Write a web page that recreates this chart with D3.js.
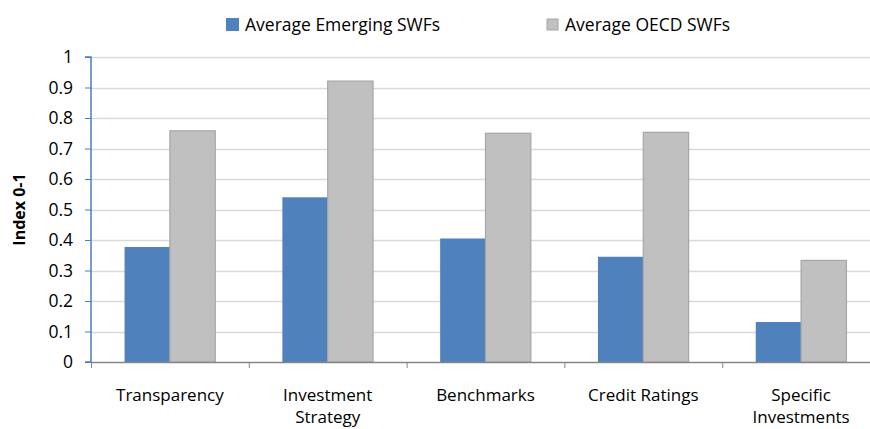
<!DOCTYPE html>
<html>
<head>
<meta charset="utf-8">
<script src="https://cdn.jsdelivr.net/npm/d3@7"></script>
<style>
  body { margin: 0; background: #fff; }
  text { font-family: "Open Sans", "Liberation Sans", sans-serif; fill: #000; }
</style>
</head>
<body>
<div id="chart"></div>
<script>
// Chart data
var categories = ["Transparency", "Investment Strategy", "Benchmarks", "Credit Ratings", "Specific Investments"];
var categoryLines = [["Transparency"], ["Investment", "Strategy"], ["Benchmarks"], ["Credit Ratings"], ["Specific", "Investments"]];
var seriesNames = ["Average Emerging SWFs", "Average OECD SWFs"];
var emerging = [0.377, 0.54, 0.405, 0.345, 0.131];
var oecd = [0.758, 0.921, 0.75, 0.753, 0.333];
var yTicks = [0, 0.1, 0.2, 0.3, 0.4, 0.5, 0.6, 0.7, 0.8, 0.9, 1];

var width = 870, height = 429;
var margin = { left: 91, right: -10, top: 57, bottom: 67 };

var svg = d3.select("#chart").append("svg")
    .attr("width", width)
    .attr("height", height);

// Scales
var x = d3.scaleBand()
    .domain(categories)
    .range([margin.left, width - margin.right])
    .paddingInner(0)
    .paddingOuter(0);

var x1 = d3.scaleBand()
    .domain(seriesNames)
    .range([0, x.bandwidth()])
    .paddingInner(0)
    .paddingOuter(0.74);

var y = d3.scaleLinear()
    .domain([0, 1])
    .range([height - margin.bottom, margin.top]);

var colors = ["#4f81bd", "#c0c0c0"];

// Gridlines
svg.append("g")
    .selectAll("line")
    .data(yTicks.slice(1))
    .enter()
    .append("line")
    .attr("x1", margin.left)
    .attr("x2", width)
    .attr("y1", d => Math.round(y(d)) + 0.5)
    .attr("y2", d => Math.round(y(d)) + 0.5)
    .style("stroke", "#d9d9d9")
    .style("stroke-width", 1.5);

// Bars
var series = [emerging, oecd];
series.forEach(function (vals, s) {
    svg.append("g")
        .selectAll("rect")
        .data(vals)
        .enter()
        .append("rect")
        .attr("x", (d, i) => x(categories[i]) + x1(seriesNames[s]))
        .attr("y", d => y(d))
        .attr("width", x1.bandwidth())
        .attr("height", d => y(0) - y(d))
        .style("fill", colors[s])
        .style("stroke", s === 1 ? "#a6a6a6" : "none")
        .style("stroke-width", 1.2);
});

// X axis
var xAxisG = svg.append("g");
xAxisG.append("line")
    .attr("x1", margin.left)
    .attr("x2", width)
    .attr("y1", y(0) + 0.5)
    .attr("y2", y(0) + 0.5)
    .style("stroke", "#868686")
    .style("stroke-width", 1.5);

xAxisG.selectAll(".xtick")
    .data(categories)
    .enter()
    .append("line")
    .attr("x1", d => x(d) + 0.5)
    .attr("x2", d => x(d) + 0.5)
    .attr("y1", y(0))
    .attr("y2", y(0) + 6)
    .style("stroke", "#868686");

// category labels, wrapped onto two lines where needed
categoryLines.forEach(function (lines, i) {
    var t = xAxisG.append("text")
        .attr("text-anchor", "middle")
        .style("font-size", "17px");
    lines.forEach(function (line, j) {
        t.append("tspan")
            .attr("x", x(categories[i]) + x.bandwidth() / 2)
            .attr("y", 401 + j * 22)
            .text(line);
    });
});

// Y axis
var yAxis = d3.axisLeft(y)
    .tickValues(yTicks)
    .tickSize(6)
    .tickFormat(d3.format("~g"));

var yAxisG = svg.append("g")
    .attr("transform", "translate(" + margin.left + ",0)")
    .call(yAxis);

yAxisG.select(".domain")
    .attr("d", "M-6," + y(1) + "H0V" + y(0) + "H-6")
    .style("stroke", "#4a7ebb")
    .style("stroke-width", 1.5);
yAxisG.selectAll(".tick line").style("stroke", "#4a7ebb");
yAxisG.selectAll(".tick text")
    .attr("x", -18)
    .style("font-size", "17.5px")
    .style("font-family", "'Open Sans', sans-serif")
    .style("fill", "#000");

// Y axis title
svg.append("text")
    .attr("transform", "translate(25," + ((y(0) + y(1)) / 2) + ") rotate(-90)")
    .attr("text-anchor", "middle")
    .style("font-size", "16px")
    .style("font-weight", "bold")
    .text("Index 0-1");

// Legend
var legendX = [226, 547];
seriesNames.forEach(function (name, i) {
    var g = svg.append("g").attr("transform", "translate(" + legendX[i] + ",18)");
    g.append("rect")
        .attr("width", i === 0 ? 13 : 11)
        .attr("height", i === 0 ? 13 : 11)
        .attr("y", i === 0 ? 0 : 1)
        .style("fill", colors[i])
        .style("stroke", i === 1 ? "#a6a6a6" : "none");
    g.append("text")
        .attr("x", i === 0 ? 19 : 18)
        .attr("y", 13)
        .style("font-size", "17.5px")
        .text(name);
});
</script>
</body>
</html>
